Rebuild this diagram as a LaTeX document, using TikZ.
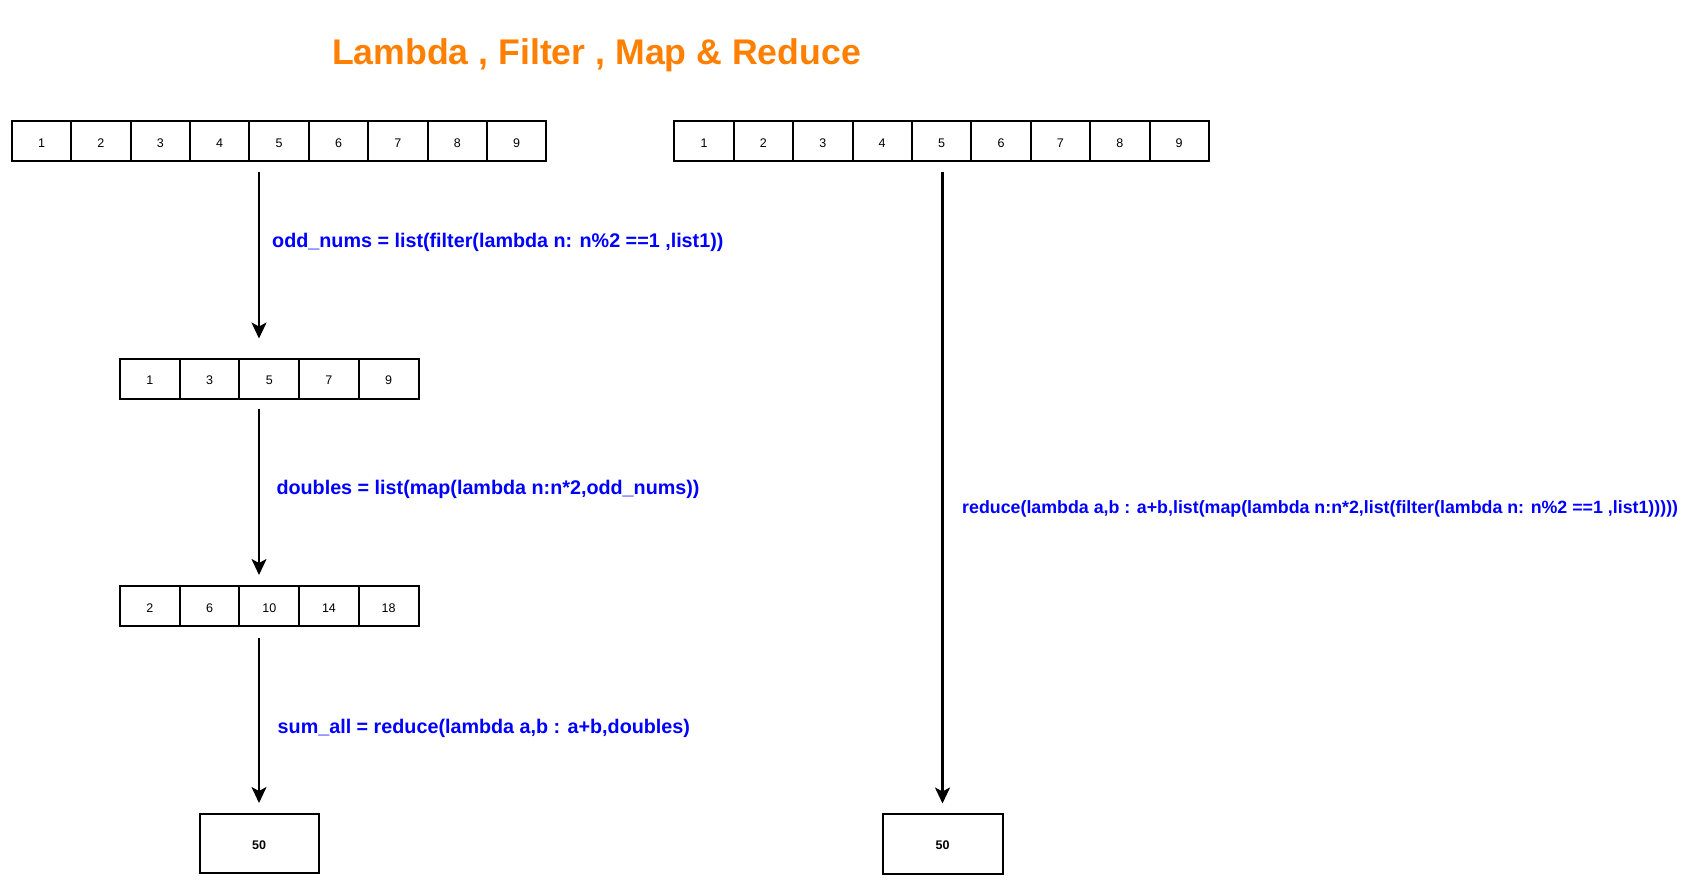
\documentclass[tikz,border=0pt]{standalone}
\usepackage{fontspec}
\setmainfont{Liberation Sans}
\usetikzlibrary{arrows.meta}
\definecolor{titleorange}{RGB}{255,128,0}
\definecolor{codeblue}{RGB}{0,0,255}
\tikzset{
  cell/.style={draw=black, line width=2pt, minimum width=59.4pt, minimum height=40pt, inner sep=0pt, text height=12pt, text depth=0pt, font=\fontsize{12.5}{14}\selectfont},
  cellb/.style={cell, minimum width=59.7pt},
  resbox/.style={draw=black, line width=2pt, minimum width=119pt, minimum height=59pt, inner sep=0pt, text height=12pt, text depth=0pt, font=\bfseries\fontsize{12.5}{14}\selectfont},
  arrowline/.style={line width=2.2pt, -{Stealth[length=16pt,width=15pt,inset=4pt]}},
  codelabel/.style={anchor=west, inner sep=0pt, text=codeblue, font=\bfseries\fontsize{19.75}{22}\selectfont},
  titletext/.style={inner sep=0pt, text=titleorange, font=\bfseries\fontsize{35.65}{40}\selectfont}
}
\begin{document}
\begin{tikzpicture}[x=1pt,y=-1pt]
\useasboundingbox (0,0) rectangle (1699,881);
\node[titletext] (title) at (596.5,55) {Lambda , Filter , Map \& Reduce};
% top-left list
\foreach \v [count=\i] in {1,...,9} {
  \node[cell] (L\i) at ({11.8+59.4*(\i-0.5)},141) {\v};
}
% top-right list
\foreach \v [count=\i] in {1,...,9} {
  \node[cell] (R\i) at ({674.3+59.4*(\i-0.5)},141) {\v};
}
% odd list
\foreach \v [count=\i] in {1,3,5,7,9} {
  \node[cellb] (O\i) at ({120+59.7*(\i-0.5)},378.5) {\v};
}
% doubles list
\foreach \v [count=\i] in {2,6,10,14,18} {
  \node[cellb] (D\i) at ({120+59.7*(\i-0.5)},606) {\v};
}
\node[resbox] (resL) at (259,843.5) {50};
\node[resbox, minimum width=120pt, minimum height=60pt] (resR) at (942.5,843.5) {50};
% arrows
\draw[arrowline, shorten <=9.5pt, shorten >=19pt] (L5.south -| resL.center) -- (O3.north -| resL.center);
\draw[arrowline, shorten <=9pt, shorten >=10pt] (O3.south -| resL.center) -- (D3.north -| resL.center);
\draw[arrowline, shorten <=11pt, shorten >=10pt] (D3.south -| resL.center) -- (resL.north);
\draw[arrowline, shorten <=9.5pt, shorten >=9pt] (R5.south -| resR.center) -- (resR.north);
% labels
\node[codelabel] (lab1) at (272,242.5) {odd\_nums = list(filter(lambda n: n\%2 ==1 ,list1))};
\node[codelabel] (lab2) at (276.3,489.6) {doubles = list(map(lambda n:n*2,odd\_nums))};
\node[codelabel] (lab3) at (277.5,728) {sum\_all = reduce(lambda a,b : a+b,doubles)};
\node[codelabel, font=\bfseries\fontsize{17.8}{20}\selectfont] (lab4) at (962,508.5) {reduce(lambda a,b : a+b,list(map(lambda n:n*2,list(filter(lambda n: n\%2 ==1 ,list1)))))};
\end{tikzpicture}
\end{document}
